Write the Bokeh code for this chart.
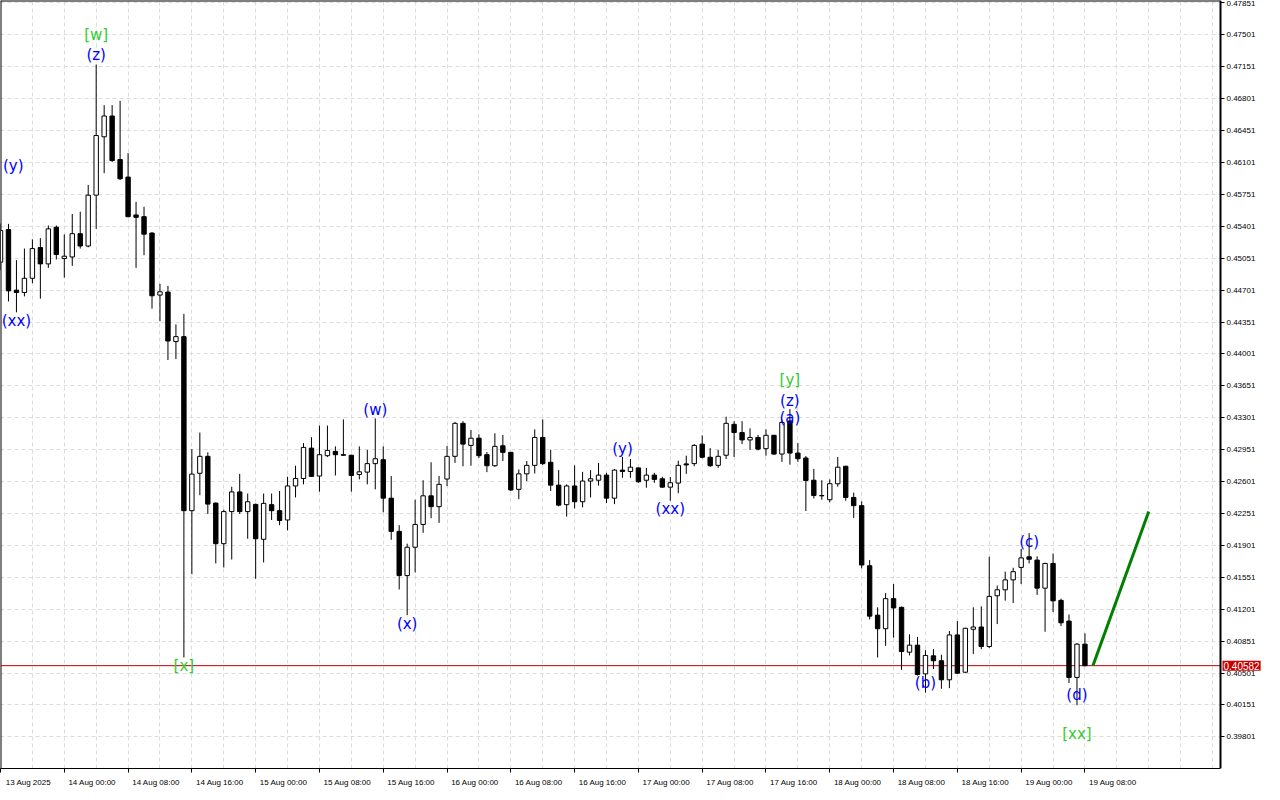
from bokeh.plotting import figure
from bokeh.models import FixedTicker, NumeralTickFormatter, Label, Range1d, ColumnDataSource, LinearAxis
from bokeh.embed import file_html
from bokeh.resources import INLINE
from bokeh.core.properties import value

# ---- data (1H candles, 13 Aug 16:00 -> 19 Aug 08:00) ----
opens = [0.45008, 0.45366, 0.44701, 0.44675, 0.44831, 0.45168, 0.44989, 0.45391, 0.45048, 0.45065,
         0.45320, 0.45185, 0.45743, 0.46383, 0.46611, 0.46133, 0.45941, 0.45526, 0.45507, 0.45327,
         0.44647, 0.44680, 0.44137, 0.44191, 0.42282, 0.42692, 0.42878, 0.42365, 0.41920, 0.42272,
         0.42488, 0.42272, 0.42351, 0.41968, 0.42348, 0.42282, 0.42180, 0.42553, 0.42635, 0.42968,
         0.42662, 0.42885, 0.42932, 0.42896, 0.42890, 0.42679, 0.42705, 0.42798, 0.42841, 0.42419,
         0.42055, 0.41570, 0.41881, 0.42131, 0.42445, 0.42326, 0.42629, 0.42878, 0.43240, 0.42998,
         0.43077, 0.42896, 0.42775, 0.42994, 0.42922, 0.42516, 0.42686, 0.42779, 0.43085, 0.42813,
         0.42562, 0.42348, 0.42553, 0.42380, 0.42607, 0.42616, 0.42672, 0.42419, 0.42727, 0.42712,
         0.42751, 0.42616, 0.42672, 0.42632, 0.42540, 0.42585, 0.42795, 0.42798, 0.43012, 0.42868,
         0.42779, 0.42890, 0.43229, 0.43139, 0.43058, 0.43085, 0.42962, 0.43109, 0.42903, 0.43266,
         0.42914, 0.42860, 0.42616, 0.42448, 0.42402, 0.42577, 0.42769, 0.42427, 0.42337, 0.41678,
         0.41136, 0.40987, 0.41317, 0.41222, 0.40730, 0.40807, 0.40492, 0.40690, 0.40636, 0.40427,
         0.40919, 0.40510, 0.40981, 0.41006, 0.40792, 0.41349, 0.41414, 0.41523, 0.41660, 0.41776,
         0.41740, 0.41432, 0.41703, 0.41298, 0.41071, 0.40453, 0.40818]
highs = [0.45431, 0.45428, 0.45030, 0.45157, 0.45258, 0.45271, 0.45410, 0.45410, 0.45312, 0.45536,
         0.45561, 0.45855, 0.47175, 0.46730, 0.46730, 0.46777, 0.46204, 0.45670, 0.45616, 0.45338,
         0.44770, 0.44748, 0.44325, 0.44441, 0.42957, 0.43139, 0.42922, 0.42373, 0.42293, 0.42545,
         0.42686, 0.42470, 0.42360, 0.42470, 0.42470, 0.42498, 0.42654, 0.42775, 0.43023, 0.43088,
         0.43215, 0.43215, 0.42987, 0.43283, 0.42895, 0.42987, 0.42949, 0.43294, 0.42987, 0.42662,
         0.42123, 0.41920, 0.42402, 0.42616, 0.42813, 0.42662, 0.42990, 0.43256, 0.43264, 0.43167,
         0.43120, 0.42925, 0.43131, 0.43112, 0.42925, 0.42734, 0.42827, 0.43174, 0.43283, 0.42949,
         0.42727, 0.42571, 0.42779, 0.42708, 0.42727, 0.42806, 0.42697, 0.42740, 0.42871, 0.42849,
         0.42755, 0.42751, 0.42697, 0.42654, 0.42651, 0.42830, 0.42885, 0.43012, 0.43107, 0.42968,
         0.42949, 0.43313, 0.43264, 0.43264, 0.43185, 0.43112, 0.43174, 0.43112, 0.43277, 0.43397,
         0.43023, 0.42882, 0.42740, 0.42616, 0.42625, 0.42871, 0.42775, 0.42481, 0.42384, 0.41740,
         0.41222, 0.41378, 0.41478, 0.41230, 0.40926, 0.40897, 0.40752, 0.40763, 0.40701, 0.40962,
         0.41071, 0.40998, 0.41222, 0.41233, 0.41776, 0.41461, 0.41613, 0.41656, 0.41862, 0.42036,
         0.41781, 0.41711, 0.41812, 0.41317, 0.41143, 0.40829, 0.40937]
lows = [0.44921, 0.44577, 0.44458, 0.44632, 0.44777, 0.44607, 0.44945, 0.45038, 0.44838, 0.44967,
        0.45157, 0.45171, 0.45373, 0.45984, 0.46107, 0.45909, 0.45500, 0.44945, 0.45084, 0.44498,
        0.44360, 0.43934, 0.43945, 0.40672, 0.41585, 0.42452, 0.42246, 0.41703, 0.41659, 0.41746,
        0.42246, 0.41974, 0.41535, 0.41714, 0.42180, 0.42123, 0.42066, 0.42427, 0.42571, 0.42651,
        0.42491, 0.42871, 0.42668, 0.42885, 0.42491, 0.42625, 0.42571, 0.42516, 0.42264, 0.41963,
        0.41418, 0.41136, 0.41605, 0.42039, 0.42199, 0.42148, 0.42551, 0.42806, 0.42769, 0.42775,
        0.42860, 0.42705, 0.42762, 0.42827, 0.42498, 0.42408, 0.42607, 0.42690, 0.42784, 0.42498,
        0.42329, 0.42217, 0.42307, 0.42318, 0.42427, 0.42557, 0.42365, 0.42354, 0.42643, 0.42643,
        0.42588, 0.42534, 0.42588, 0.42534, 0.42391, 0.42473, 0.42686, 0.42769, 0.42857, 0.42762,
        0.42751, 0.42849, 0.42871, 0.43012, 0.42949, 0.42943, 0.42885, 0.42896, 0.42817, 0.42787,
        0.42817, 0.42278, 0.42416, 0.42402, 0.42373, 0.42545, 0.42391, 0.42202, 0.41649, 0.41089,
        0.40672, 0.40799, 0.40889, 0.40536, 0.40694, 0.40474, 0.40286, 0.40546, 0.40329, 0.40335,
        0.40495, 0.40499, 0.40711, 0.40763, 0.40776, 0.41038, 0.41295, 0.41269, 0.41478, 0.41703,
        0.41358, 0.40954, 0.41171, 0.41016, 0.40392, 0.40148, 0.40575]
closes = [0.45355, 0.44693, 0.44675, 0.44831, 0.45157, 0.44989, 0.45373, 0.45092, 0.45073, 0.45320,
          0.45185, 0.45743, 0.46397, 0.46611, 0.46122, 0.45923, 0.45507, 0.45500, 0.45315, 0.44639,
          0.44683, 0.44143, 0.44191, 0.42282, 0.42683, 0.42878, 0.42354, 0.41920, 0.42272, 0.42488,
          0.42272, 0.42380, 0.41974, 0.42362, 0.42282, 0.42174, 0.42553, 0.42635, 0.42976, 0.42658,
          0.42896, 0.42943, 0.42896, 0.42890, 0.42668, 0.42708, 0.42798, 0.42852, 0.42419, 0.42055,
          0.41570, 0.41881, 0.42131, 0.42445, 0.42326, 0.42571, 0.42878, 0.43240, 0.43012, 0.43077,
          0.42885, 0.42775, 0.42987, 0.42922, 0.42509, 0.42686, 0.42779, 0.43085, 0.42798, 0.42562,
          0.42343, 0.42553, 0.42380, 0.42607, 0.42632, 0.42672, 0.42419, 0.42727, 0.42712, 0.42759,
          0.42599, 0.42672, 0.42625, 0.42540, 0.42588, 0.42779, 0.42784, 0.42998, 0.42868, 0.42775,
          0.42878, 0.43240, 0.43139, 0.43058, 0.43085, 0.42957, 0.43109, 0.42903, 0.43250, 0.42914,
          0.42852, 0.42613, 0.42448, 0.42445, 0.42578, 0.42759, 0.42427, 0.42337, 0.41686, 0.41125,
          0.40987, 0.41317, 0.41215, 0.40737, 0.40807, 0.40485, 0.40694, 0.40636, 0.40427, 0.40919,
          0.40499, 0.40992, 0.41006, 0.40792, 0.41342, 0.41414, 0.41523, 0.41613, 0.41764, 0.41749,
          0.41432, 0.41703, 0.41293, 0.41052, 0.40453, 0.40818, 0.40582]

x_tick_labels = ["13 Aug 2025", "14 Aug 00:00", "14 Aug 08:00", "14 Aug 16:00", "15 Aug 00:00",
                 "15 Aug 08:00", "15 Aug 16:00", "16 Aug 00:00", "16 Aug 08:00", "16 Aug 16:00",
                 "17 Aug 00:00", "17 Aug 08:00", "17 Aug 16:00", "18 Aug 00:00", "18 Aug 08:00",
                 "18 Aug 16:00", "19 Aug 00:00", "19 Aug 08:00"]
y_tick_values = [0.39801, 0.40151, 0.40501, 0.40851, 0.41201, 0.41551, 0.41901, 0.42251,
                 0.42601, 0.42951, 0.43301, 0.43651, 0.44001, 0.44351, 0.44701, 0.45051,
                 0.45401, 0.45751, 0.46101, 0.46451, 0.46801, 0.47151, 0.47501, 0.47851]

wave_texts = ["(y)", "(xx)", "[w]", "(z)", "[x]", "(w)", "(x)", "(y)", "(xx)",
              "[y]", "(z)", "(a)", "(b)", "(c)", "(d)", "[xx]"]
wave_bars = [1.6, 2, 12, 12, 23, 47, 51, 78, 84, 99, 99, 99, 116, 129, 135, 135]
wave_prices = [0.46061, 0.44368, 0.47504, 0.47276, 0.40582, 0.43391, 0.41038, 0.42957,
               0.42296, 0.43717, 0.43489, 0.43294, 0.40397, 0.41938, 0.40256, 0.39833]

forecast_bars = [137, 144]
forecast_prices = [0.40582, 0.42274]
bid_price = 0.40582
bars_per_label = 8

# ---- figure ----
n = len(opens)
idx = list(range(n))
x_start = 0            # first bar sits on the left border
axis_bar = 153         # price scale position (in bars)
FRAME_W, FRAME_H = 1264, 768
px_per_bar = 1220 / axis_bar
x_stop = x_start + FRAME_W / px_per_bar
y_lo, y_hi = 0.39454, 0.47878

p = figure(frame_width=FRAME_W, frame_height=FRAME_H, output_backend="svg", toolbar_location=None,
           x_range=Range1d(x_start, x_stop), y_range=Range1d(y_lo, y_hi),
           y_axis_location=None, min_border_left=0, min_border_top=0,
           min_border_right=0, min_border_bottom=0, background_fill_color="white",
           border_fill_color="white", outline_line_color=None)

# grid
p.xgrid.ticker = FixedTicker(ticks=list(range(0, axis_bar, bars_per_label // 2)))
p.ygrid.ticker = FixedTicker(ticks=y_tick_values)
for g in (p.xgrid, p.ygrid):
    g.grid_line_color = "#dcdcdc"
    g.grid_line_dash = "4 3"
    g.grid_line_width = 1

# blank price-scale strip to the right of the chart area (hides grid there)
p.quad(left=[axis_bar], right=[x_stop], bottom=[y_lo], top=[y_hi],
       fill_color="white", line_color=None)
# chart border (top and left)
p.segment(x0=[x_start, x_start], y0=[y_hi, y_lo], x1=[axis_bar, x_start], y1=[y_hi, y_hi],
          line_color="black", line_width=2)

# x axis: labels left-aligned after tick (offset major ticks carry labels, real ticks as minor)
label_pos = [k * bars_per_label + 3.5 for k in range(len(x_tick_labels))]
tick_pos = [k * bars_per_label for k in range(len(x_tick_labels))]
xa = p.xaxis[0]
xa.ticker = FixedTicker(ticks=label_pos, minor_ticks=tick_pos)
xa.major_label_overrides = {pos: lab for pos, lab in zip(label_pos, x_tick_labels)}
xa.bounds = (x_start, axis_bar)
xa.major_tick_out = 0
xa.major_tick_in = 0
xa.minor_tick_out = 4
xa.minor_tick_in = 0
xa.minor_tick_line_color = "black"
xa.axis_line_color = "black"
xa.axis_line_width = 1
xa.major_label_standoff = 5
xa.major_label_text_font = "Liberation Sans"
xa.major_label_text_font_size = "8px"
xa.major_label_text_color = "black"

# price axis drawn at the price-scale position
ya = LinearAxis(fixed_location=axis_bar)
ya.ticker = FixedTicker(ticks=y_tick_values)
ya.formatter = NumeralTickFormatter(format="0.00000")
ya.major_tick_out = 4
ya.major_tick_in = 0
ya.minor_tick_out = 0
ya.minor_tick_in = 0
ya.axis_line_width = 2
ya.axis_line_color = "black"
ya.major_label_standoff = 2
ya.major_label_text_font = "Liberation Sans"
ya.major_label_text_font_size = "8px"
ya.major_label_text_color = "black"
p.add_layout(ya, "right")

# bid line (behind candles)
p.line(x=[x_start, axis_bar], y=[bid_price, bid_price], line_color="#c00000", line_width=1)

# candles
tops = [max(o, c) for o, c in zip(opens, closes)]
bots = [min(o, c) for o, c in zip(opens, closes)]
fills = ["white" if c >= o else "black" for o, c in zip(opens, closes)]
src = ColumnDataSource(dict(x=idx, o=opens, h=highs, l=lows, c=closes, top=tops, bot=bots, fill=fills))
p.segment(x0="x", y0="l", x1="x", y1="h", source=src, line_color="black", line_width=1)
p.vbar(x="x", width=0.55, top="top", bottom="bot", source=src, fill_color="fill",
       line_color="black", line_width=1)

# forecast line
p.line(forecast_bars, forecast_prices, line_color="#008000", line_width=3)

# wave labels
wave_colors = ["#33cc33" if t.startswith("[") else "#0000ff" for t in wave_texts]
p.text(x=wave_bars, y=wave_prices, text=wave_texts, text_color=wave_colors,
       text_align="center", text_baseline="middle", text_font=value("DejaVu Sans"),
       text_font_size="15px")

# price tag on the price scale
p.add_layout(Label(x=axis_bar, y=bid_price, x_offset=2, text="%.5f" % bid_price,
                   text_color="white", text_font="Liberation Sans", text_font_size="10px",
                   text_baseline="middle", text_align="left", background_fill_color="#c80000",
                   padding=1))

open("out.html", "w").write(file_html(p, INLINE))
